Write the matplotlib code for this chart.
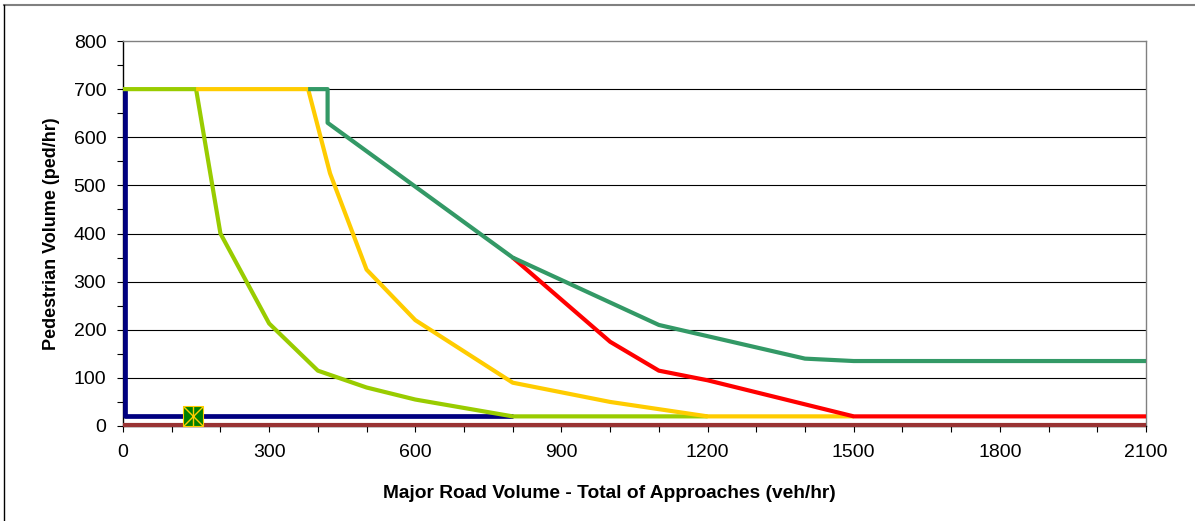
import matplotlib
matplotlib.use("Agg")
import matplotlib.pyplot as plt
from matplotlib.lines import Line2D
from matplotlib.ticker import MultipleLocator

plt.rcParams['font.family'] = ['Liberation Sans', 'DejaVu Sans']

# ---- data ----
navy_x = [5, 5, 800]
navy_y = [700, 20, 20]

base_x = [0, 2100]
base_y = [2, 2]

lgreen_x = [0, 150, 200, 300, 400, 500, 600, 800, 1200]
lgreen_y = [700, 700, 400, 213, 115, 80, 55, 20, 20]

yellow_x = [150, 380, 425, 500, 600, 800, 1000, 1200, 1500]
yellow_y = [700, 700, 525, 325, 220, 90, 50, 20, 20]

red_x = [800, 1000, 1100, 1200, 1500, 2100]
red_y = [350, 175, 115, 95, 20, 20]

dgreen_x = [380, 420, 420, 800, 1100, 1400, 1500, 2100]
dgreen_y = [700, 700, 630, 350, 210, 140, 135, 135]

point_x = [144]
point_y = [20]

x_ticks = [0, 300, 600, 900, 1200, 1500, 1800, 2100]
y_ticks = [0, 100, 200, 300, 400, 500, 600, 700, 800]

xlabel = "Major Road Volume - Total of Approaches (veh/hr)"
ylabel = "Pedestrian Volume (ped/hr)"

# ---- figure ----
fig = plt.figure(figsize=(11.95, 5.21), dpi=100)
ax = fig.add_axes([123/1195, 95/521, 1023/1195, 385/521])

ax.set_xlim(0, 2100)
ax.set_ylim(0, 800)
ax.set_xticks(x_ticks)
ax.set_yticks(y_ticks)
ax.xaxis.set_minor_locator(MultipleLocator(100))
ax.yaxis.set_minor_locator(MultipleLocator(50))
ax.tick_params(axis='both', which='both', direction='out', length=4, width=0.8, colors='black')
ax.tick_params(axis='x', which='major', labelsize=14, pad=9)
ax.tick_params(axis='y', which='major', labelsize=14, pad=8)

for yv in y_ticks[1:-1]:
    ax.axhline(yv, color='black', lw=0.8, zorder=1)

ax.spines['top'].set_color('#808080')
ax.spines['right'].set_color('#808080')
ax.spines['left'].set_color('black')
ax.spines['bottom'].set_color('black')
for s in ax.spines.values():
    s.set_linewidth(1.0)

lw = 3.0
ax.plot(base_x, base_y, color='#993333', lw=lw, solid_capstyle='butt', zorder=3, clip_on=False)
ax.plot(navy_x, navy_y, color='#000080', lw=3.4, solid_capstyle='butt', zorder=4)
ax.plot(lgreen_x, lgreen_y, color='#99CC00', lw=lw, solid_capstyle='butt', zorder=5)
ax.plot(yellow_x, yellow_y, color='#FFCC00', lw=lw, solid_capstyle='butt', zorder=6)
ax.plot(red_x, red_y, color='#FF0000', lw=lw, solid_capstyle='butt', zorder=7)
ax.plot(dgreen_x, dgreen_y, color='#339966', lw=lw, solid_capstyle='butt', zorder=8)

ax.plot(point_x, point_y, marker='s', ms=15, mfc='#008000', mec='#FFCC00', mew=0.8, ls='none', zorder=10, clip_on=False)
ax.plot(point_x, point_y, marker='x', ms=14, mec='#FFCC00', mew=1.0, ls='none', zorder=11, clip_on=False)
ax.plot(point_x, point_y, marker='|', ms=14, mec='#FFCC00', mew=1.0, ls='none', zorder=11, clip_on=False)

ax.set_xlabel(xlabel, fontsize=13.8, fontweight='bold')
ax.set_ylabel(ylabel, fontsize=13, fontweight='bold')
ax.xaxis.set_label_coords((609 - 123) / 1023, -(494 - 426) / 385)
ax.xaxis.label.set_verticalalignment('center')
ax.yaxis.set_label_coords(-(123 - 52) / 1023, 0.5)
ax.yaxis.label.set_verticalalignment('center')

# figure border (top and left)
fig.add_artist(Line2D([4/1195, 1], [1 - 5/521, 1 - 5/521], transform=fig.transFigure, color='#808080', lw=1.5))
fig.add_artist(Line2D([4/1195, 4/1195], [0, 1 - 5/521], transform=fig.transFigure, color='black', lw=1.0))

fig.savefig("out.png", dpi=100)
